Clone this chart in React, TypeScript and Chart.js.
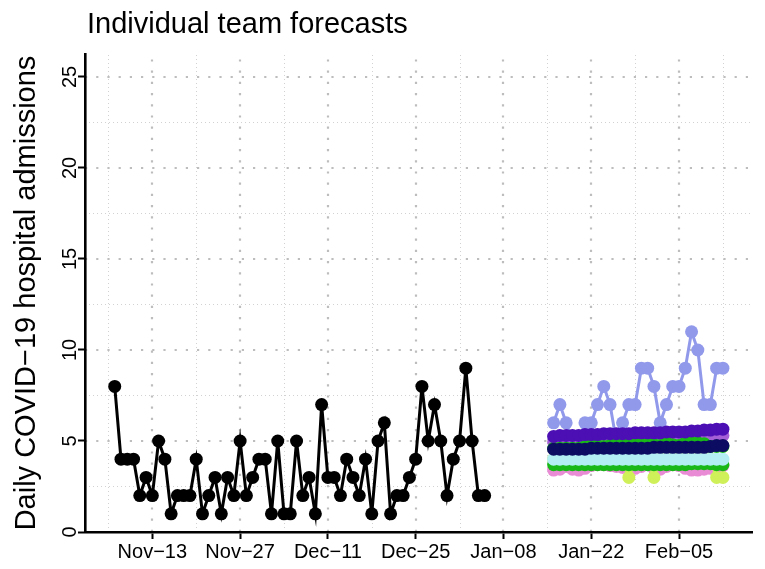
import React, { useEffect, useRef } from "react";
import { Chart, registerables } from "chart.js";

Chart.register(...registerables);

// Day index 0 = Nov-07
const OBS_START_DAY = 0;
const FC_START_DAY = 70;

const observed = [
  8, 4, 4, 4, 2, 3, 2, 5, 4, 1, 2, 2, 2, 4, 1, 2, 3, 1, 3, 2,
  5, 2, 3, 4, 4, 1, 5, 1, 1, 5, 2, 3, 1, 7, 3, 3, 2, 4, 3, 2,
  4, 1, 5, 6, 1, 2, 2, 3, 4, 8, 5, 7, 5, 2, 4, 5, 9, 5, 2, 2,
];

const fcLightBlue = [6, 7, 6, 5, 5, 6, 6, 7, 8, 7, 5, 6, 7, 7, 9, 9, 8, 6, 7, 8, 8, 9, 11, 10, 7, 7, 9, 9];
const fcDarkPurple = [5.25, 5.3, 5.3, 5.3, 5.3, 5.35, 5.35, 5.35, 5.4, 5.4, 5.4, 5.4, 5.4, 5.45, 5.45, 5.45, 5.45, 5.45, 5.5, 5.5, 5.5, 5.5, 5.55, 5.55, 5.6, 5.6, 5.65, 5.65];
const fcMedPurple = [4.95, 4.95, 5.0, 5.0, 5.0, 5.0, 5.0, 5.0, 5.0, 5.0, 5.05, 5.05, 5.05, 5.05, 5.05, 5.05, 5.1, 5.1, 5.1, 5.1, 5.1, 5.1, 5.15, 5.15, 5.15, 5.2, 5.25, 5.3];
const fcGreenUpper = [4.6, 4.6, 4.6, 4.6, 4.6, 4.7, 4.9, 4.75, 4.7, 4.75, 4.9, 4.9, 4.75, 4.9, 4.75, 4.9, 4.8, 4.75, 4.9, 4.8, 4.75, 4.9, 4.9, 4.9, 4.85, 4.7, 4.7, 4.7];
const fcNavy = [4.55, 4.55, 4.55, 4.55, 4.55, 4.55, 4.6, 4.6, 4.6, 4.6, 4.6, 4.6, 4.6, 4.6, 4.6, 4.6, 4.65, 4.65, 4.65, 4.65, 4.65, 4.65, 4.65, 4.65, 4.65, 4.7, 4.75, 4.75];
const fcCyan = [4.0, 4.0, 4.0, 4.0, 4.0, 4.0, 4.0, 4.0, 4.0, 4.0, 4.0, 4.0, 4.0, 4.0, 4.0, 4.0, 4.0, 4.0, 4.0, 4.0, 4.0, 4.0, 4.0, 4.0, 4.0, 4.0, 4.0, 4.0];
const fcGreen = [3.7, 3.7, 3.7, 3.7, 3.7, 3.7, 3.7, 3.7, 3.7, 3.7, 3.7, 3.7, 3.7, 3.7, 3.7, 3.7, 3.7, 3.7, 3.7, 3.7, 3.7, 3.7, 3.75, 3.75, 3.75, 3.75, 3.7, 3.7];
const fcPink = [3.4, 3.45, 3.6, 3.45, 3.4, 3.5, 3.65, 3.7, 3.7, 3.65, 3.6, 3.55, 3.45, 3.5, 3.6, 3.7, 3.5, 3.45, 3.6, 3.7, 3.65, 3.5, 3.4, 3.4, 3.45, 3.5, 3.6, 3.65];
const fcYellowGreen = [4, 4, 4, 4, 4, 4, 4, 4, 4, 4, 4, 4, 3, 4, 4, 4, 3, 4, 4, 4, 4, 4, 4, 4, 4, 4, 3, 3];

const xTickDays = [6, 20, 34, 48, 62, 76, 90];
const xTickLabels = ["Nov\u221213", "Nov\u221227", "Dec\u221211", "Dec\u221225", "Jan\u221208", "Jan\u221222", "Feb\u221205"];
const yTickValues = [0, 5, 10, 15, 20, 25];
const xMinorGrid = [-1, 13, 27, 41, 55, 69, 83, 97];
const yMinorGrid = [2.5, 7.5, 12.5, 17.5, 22.5];

const TITLE = "Individual team forecasts";
const Y_TITLE = "Daily COVID\u221219 hospital admissions";

const FONT = "'Liberation Sans', Arial, Helvetica, sans-serif";

// top-most first (Chart.js draws index 0 last)
const forecastTeams = [
  { label: "Team A", color: "#4B0FB4", values: fcDarkPurple },
  { label: "Team B", color: "#0C0C62", values: fcNavy },
  { label: "Team C", color: "#18B818", values: fcGreenUpper },
  { label: "Team D", color: "#A55FD7", values: fcMedPurple },
  { label: "Team E", color: "#B2EEF4", values: fcCyan },
  { label: "Team F", color: "#18B818", values: fcGreen },
  { label: "Team G", color: "#9199EB", values: fcLightBlue },
  { label: "Team H", color: "#D0F05A", values: fcYellowGreen },
  { label: "Team I", color: "#E98BD5", values: fcPink },
];

const toPoints = (vals: number[], start: number) => vals.map((v, i) => ({ x: start + i, y: v }));

const decorPlugin = {
  id: "decor",
  beforeDraw(chart: any) {
    const { ctx, chartArea, scales } = chart;
    const { left, right, top, bottom } = chartArea;
    const x = scales.x;
    const y = scales.y;
    ctx.save();
    const hLine = (py: number) => {
      ctx.beginPath();
      ctx.moveTo(left, py);
      ctx.lineTo(right, py);
      ctx.stroke();
    };
    const vLine = (px: number) => {
      ctx.beginPath();
      ctx.moveTo(px, bottom);
      ctx.lineTo(px, top);
      ctx.stroke();
    };
    // minor grid
    ctx.strokeStyle = "#d2d2d2";
    ctx.lineWidth = 1;
    ctx.setLineDash([1, 3]);
    yMinorGrid.forEach((v) => hLine(Math.round(y.getPixelForValue(v)) + 0.5));
    xMinorGrid.forEach((d) => vLine(Math.round(x.getPixelForValue(d)) + 0.5));
    // major grid
    ctx.strokeStyle = "#bdbdbd";
    ctx.lineWidth = 2.2;
    ctx.setLineDash([2.2, 9]);
    yTickValues.filter((v) => v > 0).forEach((v) => hLine(Math.round(y.getPixelForValue(v))));
    xTickDays.forEach((d) => vLine(Math.round(x.getPixelForValue(d))));
    ctx.restore();
  },
  afterDraw(chart: any) {
    const { ctx, chartArea, scales } = chart;
    const y = scales.y;
    ctx.save();
    ctx.fillStyle = "#000";
    // title
    ctx.font = `29px ${FONT}`;
    ctx.textAlign = "left";
    ctx.textBaseline = "alphabetic";
    ctx.fillText(TITLE, 87, 33);
    // y axis title
    ctx.save();
    ctx.translate(35, (chartArea.top + chartArea.bottom) / 2);
    ctx.rotate(-Math.PI / 2);
    ctx.font = `29px ${FONT}`;
    ctx.textAlign = "center";
    ctx.fillText(Y_TITLE, 0, 0);
    ctx.restore();
    // y tick labels (rotated like R)
    ctx.font = `20px ${FONT}`;
    yTickValues.forEach((v) => {
      ctx.save();
      ctx.translate(76, y.getPixelForValue(v));
      ctx.rotate(-Math.PI / 2);
      ctx.textAlign = "center";
      ctx.textBaseline = "alphabetic";
      ctx.fillText(String(v), 0, 0);
      ctx.restore();
    });
    ctx.restore();
  },
};

export default function App() {
  const ref = useRef<HTMLCanvasElement>(null);
  useEffect(() => {
    if (!ref.current) return;
    const datasets: any[] = [
      {
        label: "Observed",
        data: toPoints(observed, OBS_START_DAY),
        borderColor: "#000",
        backgroundColor: "#000",
        borderWidth: 3,
        pointRadius: 6.5,
        pointBorderWidth: 0,
        pointBackgroundColor: "#000",
      },
      ...forecastTeams.map((t) => ({
        label: t.label,
        data: toPoints(t.values, FC_START_DAY),
        borderColor: t.color,
        backgroundColor: t.color,
        borderWidth: 3,
        pointRadius: 6.5,
        pointBorderWidth: 0,
        pointBackgroundColor: t.color,
      })),
    ];
    const chart = new Chart(ref.current, {
      type: "line",
      data: { datasets },
      plugins: [decorPlugin],
      options: {
        animation: false,
        responsive: false,
        events: [],
        layout: { padding: { top: 54, right: 13, bottom: 0, left: 0 } },
        plugins: { legend: { display: false }, tooltip: { enabled: false }, title: { display: false } },
        elements: { line: { tension: 0 } },
        scales: {
          x: {
            type: "linear",
            min: -4.74,
            max: 101.64,
            afterBuildTicks: (scale: any) => {
              scale.ticks = xTickDays.map((d) => ({ value: d }));
            },
            afterFit: (scale: any) => {
              scale.height = 37;
            },
            ticks: {
              autoSkip: false,
              maxRotation: 0,
              minRotation: 0,
              padding: 1,
              color: "#000",
              font: { family: FONT, size: 20 },
              callback: (value: any) => {
                const i = xTickDays.indexOf(Number(value));
                return i >= 0 ? xTickLabels[i] : "";
              },
            },
            grid: { drawOnChartArea: false, drawTicks: true, tickLength: 7, tickColor: "#000", tickWidth: 2 },
            border: { display: true, color: "#000", width: 2.6 },
          },
          y: {
            type: "linear",
            min: 0,
            max: 26.26,
            afterBuildTicks: (scale: any) => {
              scale.ticks = yTickValues.map((v) => ({ value: v }));
            },
            afterFit: (scale: any) => {
              scale.width = 85;
            },
            ticks: { display: false },
            grid: { drawOnChartArea: false, drawTicks: true, tickLength: 7, tickColor: "#000", tickWidth: 2 },
            border: { display: true, color: "#000", width: 2.6 },
          },
        },
      },
    });
    return () => chart.destroy();
  }, []);
  return (
    <div style={{ position: "fixed", left: 0, top: 0, width: 765, height: 569, background: "#fff" }}>
      <canvas ref={ref} width={765} height={569} style={{ display: "block" }} />
    </div>
  );
}
